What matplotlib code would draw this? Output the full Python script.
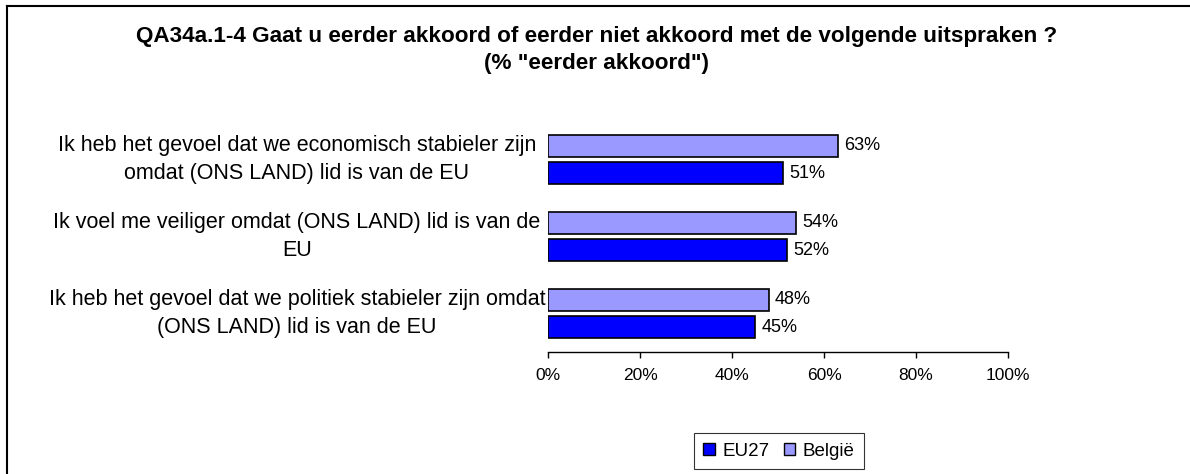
import matplotlib
matplotlib.use("Agg")
import matplotlib.pyplot as plt
from matplotlib.patches import Patch
from matplotlib.lines import Line2D
from matplotlib.transforms import blended_transform_factory

plt.rcParams['font.family'] = ['Liberation Sans', 'DejaVu Sans']

# data
categories = [
    "Ik heb het gevoel dat we economisch stabieler zijn\nomdat (ONS LAND) lid is van de EU",
    "Ik voel me veiliger omdat (ONS LAND) lid is van de\nEU",
    "Ik heb het gevoel dat we politiek stabieler zijn omdat\n(ONS LAND) lid is van de EU",
]
belgie = [63, 54, 48]
eu27 = [51, 52, 45]
series_names = ["EU27", "België"]
xticks = [0, 20, 40, 60, 80, 100]

col_be = "#9999FF"
col_eu = "#0000FF"

fig = plt.figure(figsize=(11.9, 4.74), dpi=100)
ax = fig.add_axes([548/1190, 1-352/474, 460/1190, 231/474])

y = list(range(len(categories)))
h = 0.286
off = 0.181
ax.barh([i - off for i in y], belgie, height=h, color=col_be, edgecolor="black", linewidth=1.2)
ax.barh([i + off for i in y], eu27, height=h, color=col_eu, edgecolor="black", linewidth=1.2)

for i in y:
    ax.annotate(f"{belgie[i]}%", (belgie[i], i - off), xytext=(4.5, 0), textcoords="offset points",
                va="center", ha="left", fontsize=13)
    ax.annotate(f"{eu27[i]}%", (eu27[i], i + off), xytext=(4.5, 0), textcoords="offset points",
                va="center", ha="left", fontsize=13)

ax.set_xlim(0, 100)
ax.set_ylim(len(categories) - 0.5, -0.5)
ax.set_xticks(xticks)
ax.set_xticklabels([f"{t}%" for t in xticks], fontsize=12.5)
ax.tick_params(axis="x", direction="out", length=4.3, width=1, pad=7)
ax.set_yticks([])
for s in ["left", "top", "right"]:
    ax.spines[s].set_visible(False)
ax.spines["bottom"].set_linewidth(1)

tr = blended_transform_factory(fig.transFigure, ax.transData)
for i, lab in enumerate(categories):
    ax.text(297/1190, i, lab, transform=tr, ha="center", va="center",
            multialignment="center", fontsize=15.5, linespacing=1.45)

fig.text(597/1190, 1-50/474,
         "QA34a.1-4 Gaat u eerder akkoord of eerder niet akkoord met de volgende uitspraken ?\n(% \"eerder akkoord\")",
         ha="center", va="center", fontsize=16.2, fontweight="bold", linespacing=1.4)

handles = [Patch(facecolor=col_eu, edgecolor="black", linewidth=1),
           Patch(facecolor=col_be, edgecolor="black", linewidth=1)]
leg = fig.legend(handles, series_names, loc="center", bbox_to_anchor=(779/1190, 1-451/474),
                 ncol=2, fontsize=13.5, frameon=True, fancybox=False, edgecolor="black",
                 handlelength=0.6, handleheight=0.6, handletextpad=0.4, columnspacing=0.8,
                 borderpad=0.5)
leg.get_frame().set_linewidth(0.8)

# outer frame (left and top edges)
fig.add_artist(Line2D([7/1190, 7/1190], [0, 1-6/474], transform=fig.transFigure, color="black", linewidth=1.5))
fig.add_artist(Line2D([7/1190, 1], [1-6/474, 1-6/474], transform=fig.transFigure, color="black", linewidth=1.5))

fig.savefig("out.png", dpi=100)
